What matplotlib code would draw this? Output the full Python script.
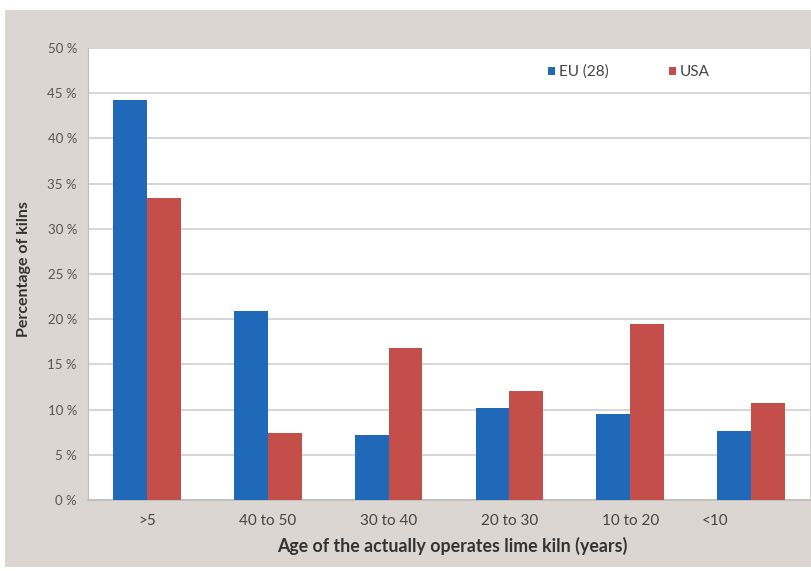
import matplotlib.pyplot as plt
import matplotlib.patches as mpatches
import matplotlib.transforms as mtrans
import numpy as np

plt.rcParams['font.family'] = ['Lato', 'DejaVu Sans']

# data
categories = ['>5', '40 to 50', '30 to 40', '20 to 30', '10 to 20', '<10']
eu_values = [44.3, 20.9, 7.2, 10.2, 9.5, 7.6]
usa_values = [33.4, 7.4, 16.8, 12.1, 19.5, 10.7]
y_ticks = [0, 5, 10, 15, 20, 25, 30, 35, 40, 45, 50]

W, H = 812, 571
fig = plt.figure(figsize=(W / 100, H / 100), dpi=100, facecolor='white')

# grey frame behind the plot
fig.patches.append(mpatches.Rectangle((5 / W, (H - 567) / H), (W - 5) / W, (567 - 10) / H,
                                      transform=fig.transFigure, facecolor='#dbd6d2',
                                      edgecolor='none', zorder=-10))

left, right, top, bottom = 88, 810, 48, 500
ax = fig.add_axes([left / W, (H - bottom) / H, (right - left) / W, (bottom - top) / H])
ax.set_facecolor('white')

x = np.arange(len(categories))
bw = 0.28
ax.bar(x - bw / 2, eu_values, bw, color='#1f69b8', label='EU (28)', zorder=3)
ax.bar(x + bw / 2, usa_values, bw, color='#c44e4a', label='USA', zorder=3)

ax.set_xlim(-0.486, 5.486)
ax.set_ylim(0, 50)
ax.set_yticks(y_ticks)
ax.set_yticklabels([f'{v} %' for v in y_ticks], fontsize=9.5, color='#555555')
ax.set_xticks(x)
ax.set_xticklabels(categories, fontsize=11, color='#444444')
ax.tick_params(axis='x', length=0, pad=10)
ax.tick_params(axis='y', length=0, pad=8)

# "<10" sits left of its group in the original
lbl = ax.get_xticklabels()[-1]
lbl.set_transform(lbl.get_transform() + mtrans.ScaledTranslation(-0.36, 0, fig.dpi_scale_trans))

ax.yaxis.grid(True, color='#cfcfcf', linewidth=1.2, zorder=0)
ax.set_axisbelow(True)
ax.spines['top'].set_visible(False)
ax.spines['left'].set_color('#bdbdbd')
ax.spines['right'].set_color('#cfcfcf')
ax.spines['bottom'].set_color('#bdbdbd')
ax.spines['bottom'].set_linewidth(1.2)

ax.set_xlabel('Age of the actually operates lime kiln (years)', fontsize=12.8,
              color='#333333', fontweight='bold')
ax.xaxis.set_label_coords(0.504, -0.082)
ax.set_ylabel('Percentage of kilns', fontsize=11.5, color='#333333', fontweight='bold')
ax.yaxis.set_label_coords(-0.079, 0.51)

leg = ax.legend(loc='center left', bbox_to_anchor=(0.637, 0.947), ncol=2, frameon=False,
                fontsize=11, handlelength=0.45, handleheight=0.45, handletextpad=0.3,
                columnspacing=3.9, borderpad=0, borderaxespad=0)
for t in leg.get_texts():
    t.set_color('#444444')

fig.savefig('out.png', dpi=100, facecolor='white')
